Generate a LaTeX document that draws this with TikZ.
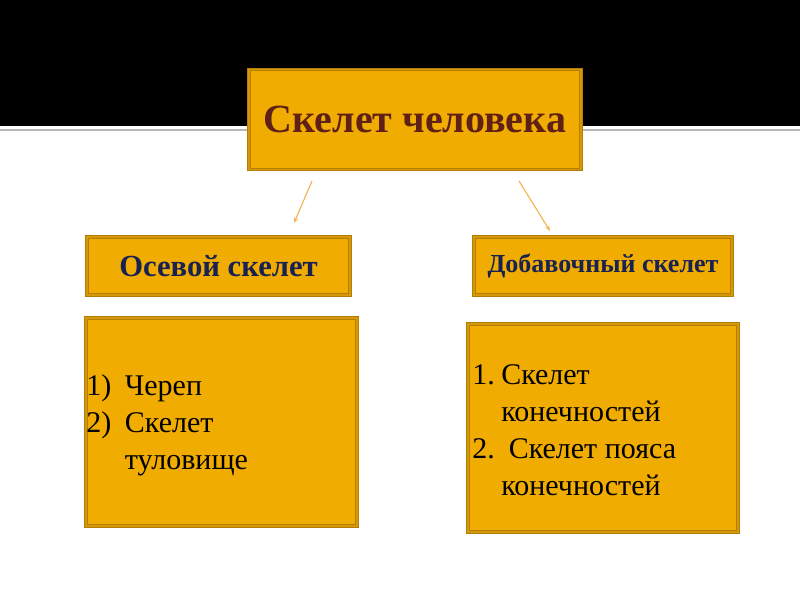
\documentclass[tikz,border=0pt]{standalone}
\usepackage{fontspec}
\setmainfont{Liberation Serif}
\usetikzlibrary{arrows.meta}
\definecolor{boxfill}{RGB}{240,172,0}
\definecolor{boxedge}{RGB}{178,126,4}
\definecolor{boxinner}{RGB}{214,152,8}
\definecolor{titlebrown}{RGB}{96,32,22}
\definecolor{headnavy}{RGB}{24,34,82}
\definecolor{arrowgold}{RGB}{244,178,72}
\tikzset{
  goldbox/.style={draw=boxedge, double=boxinner, double distance=0.8pt, line width=0.9pt, fill=boxfill, inner sep=0pt},
  headtext/.style={font=\bfseries\fontsize{#1}{#1}\selectfont, text=headnavy},
  listtext/.style={font=\fontsize{22.5}{27.75}\selectfont, inner sep=0pt},
  linkarrow/.style={draw=arrowgold, line width=0.8pt, -{Stealth[length=4pt,width=3pt]}}
}
\begin{document}
\begin{tikzpicture}[x=0.75pt,y=0.75pt,yscale=-1,xscale=1]
  \useasboundingbox (0,0) rectangle (800,600);
  \fill[white] (0,0) rectangle (800,600);

  %Shape: Band at the top
  \fill[black] (0,0) rectangle (800,125.5);
  \draw[black!28, line width=2.2pt] (0,130) -- (800,130);

  %Shape: Rectangle (title)
  \node[goldbox, minimum width=249pt, minimum height=75pt, font=\bfseries\fontsize{30}{30}\selectfont, text=titlebrown] (skeleton) at (415,119.5) {Скелет человека};

  %Shape: Rectangle (two groups)
  \node[goldbox, minimum width=197.25pt, minimum height=43.5pt, headtext=23] (axial) at (218.5,266) {Осевой скелет};
  \node[goldbox, minimum width=193.5pt, minimum height=43.5pt, headtext=19.5] (appendic) at (603,266) {Добавочный скелет};

  %Shape: Rectangle (lists)
  \node[goldbox, minimum width=203.25pt, minimum height=156pt] (axial box) at (221.5,422) {};
  \node[goldbox, minimum width=202.5pt, minimum height=156pt] (appendic box) at (603,428) {};

  % Text Node
  \node[listtext, anchor=base west] (axial list) at (86,395) {%
    \begin{tabular}[t]{@{}p{29pt}@{}l@{}}
      1) & Череп\\
      2) & Скелет\\
         & туловище
    \end{tabular}};
  % Text Node
  \node[listtext, anchor=base west] (appendic list) at (472,384) {%
    \begin{tabular}[t]{@{}p{21.75pt}@{}l@{}}
      1. & Скелет\\
         & конечностей\\
      2. & \ Скелет пояса\\
         & конечностей
    \end{tabular}};

  %Straight Lines
  \coordinate (left from) at (312,181);
  \coordinate (left to) at (294,223);
  \coordinate (right from) at (519,181);
  \coordinate (right to) at (550,231);
  \draw[linkarrow] (left from) -- (left to);
  \draw[linkarrow] (right from) -- (right to);

\end{tikzpicture}
\end{document}
